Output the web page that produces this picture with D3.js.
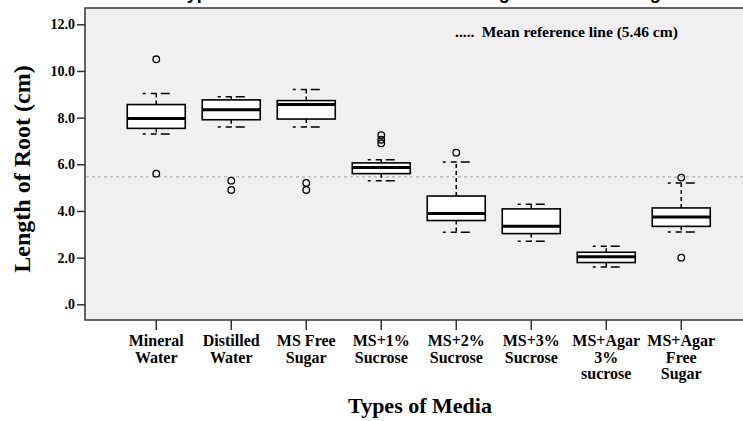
<!DOCTYPE html>
<html>
<head>
<meta charset="utf-8">
<script src="https://cdn.jsdelivr.net/npm/d3@7"></script>
<style>
  html, body { margin: 0; padding: 0; background: #fff; }
  svg { display: block; }
  .serif { font-family: "Liberation Serif", "Times New Roman", serif; font-weight: bold; }
</style>
</head>
<body>
<svg id="chart" width="743" height="421"></svg>
<script>
// ---------- data ----------
const categories = ["Mineral Water", "Distilled Water", "MS Free Sugar", "MS+1% Sucrose",
                    "MS+2% Sucrose", "MS+3% Sucrose", "MS+Agar 3% sucrose", "MS+Agar Free Sugar"];
const labelLines = [["Mineral", "Water"], ["Distilled", "Water"], ["MS Free", "Sugar"], ["MS+1%", "Sucrose"],
                    ["MS+2%", "Sucrose"], ["MS+3%", "Sucrose"], ["MS+Agar", "3%", "sucrose"], ["MS+Agar", "Free", "Sugar"]];
const whiskerLow  = [7.30, 7.60, 7.60, 5.30, 3.09, 2.70, 1.60, 3.10];
const q1          = [7.54, 7.91, 7.94, 5.60, 3.59, 3.03, 1.79, 3.34];
const median      = [7.96, 8.34, 8.56, 5.86, 3.89, 3.34, 2.04, 3.74];
const q3          = [8.56, 8.76, 8.73, 6.06, 4.64, 4.09, 2.23, 4.13];
const whiskerHigh = [9.03, 8.90, 9.21, 6.20, 6.10, 4.29, 2.49, 5.20];
const outliers    = [[10.5, 5.6], [5.3, 4.9], [5.2, 4.9], [7.25, 7.05, 6.9], [6.5], [], [], [5.43, 2.0]];
const yTicks = [0, 2, 4, 6, 8, 10, 12];
const yTickLabels = [".0", "2.0", "4.0", "6.0", "8.0", "10.0", "12.0"];
const meanValue = 5.46;
const legendText = "Mean reference line (5.46 cm)";
const xTitle = "Types of Media";
const yTitle = "Length of Root (cm)";
const chartTitle = "Types of Media on the Mean Root Length of the Seedlings";

// ---------- layout ----------
const svg = d3.select("#chart");
const plotL = 85, plotT = 8, plotB = 320, plotR = 770;

const x = d3.scaleBand().domain(categories).range([plotL, 752.5]).paddingInner(0).paddingOuter(0.45);
const y = d3.scaleLinear().domain([0, 12]).range([304.3, 24.3]);

svg.append("rect").attr("width", 743).attr("height", 421).attr("fill", "#fff");

// clipped title (only descenders visible)
svg.append("text")
  .attr("x", 177).attr("y", -1.5)
  .attr("font-family", "'Liberation Sans', Arial, sans-serif")
  .attr("font-weight", "bold").attr("font-size", 18)
  .attr("fill", "#000")
  .text(chartTitle);

// plot frame
svg.append("rect")
  .attr("x", plotL).attr("y", plotT)
  .attr("width", plotR - plotL).attr("height", plotB - plotT)
  .attr("fill", "#f0f0f0").attr("stroke", "#333").attr("stroke-width", 1.5);

// y axis
const yAxis = svg.append("g").attr("class", "serif")
  .attr("transform", `translate(${plotL},0)`)
  .call(d3.axisLeft(y).tickValues(yTicks).tickSize(8).tickPadding(2)
    .tickFormat((d, i) => yTickLabels[i]));
yAxis.select(".domain").remove();
yAxis.selectAll(".tick line").attr("stroke", "#333").attr("stroke-width", 1.5);
yAxis.selectAll(".tick text").attr("font-size", 14).attr("fill", "#000")
  .attr("font-family", "'Liberation Serif', 'Times New Roman', serif").attr("font-weight", "bold");

// x axis
const xAxis = svg.append("g")
  .attr("transform", `translate(0,${plotB})`)
  .call(d3.axisBottom(x).tickSize(10).tickFormat(""));
xAxis.select(".domain").remove();
xAxis.selectAll(".tick line").attr("stroke", "#333").attr("stroke-width", 1.5);
xAxis.selectAll(".tick").each(function(d, i) {
  const t = d3.select(this).append("text")
    .attr("font-family", "'Liberation Serif', 'Times New Roman', serif")
    .attr("font-weight", "bold").attr("font-size", 16)
    .attr("fill", "#000").attr("text-anchor", "middle");
  labelLines[i].forEach((ln, k) => {
    t.append("tspan").attr("x", 0).attr("y", 26 + k * 16.7).text(ln);
  });
});

// mean reference line
svg.append("line")
  .attr("x1", plotL + 1).attr("x2", 743)
  .attr("y1", y(meanValue)).attr("y2", y(meanValue))
  .attr("stroke", "#a0a0a0").attr("stroke-width", 1).attr("stroke-dasharray", "3,3");

// boxes
const boxW = 58, capW = 27;
const g = svg.append("g");
categories.forEach((c, i) => {
  const cx = x(c) + x.bandwidth() / 2;
  const grp = g.append("g");
  // whisker stems
  grp.append("line").attr("x1", cx).attr("x2", cx)
    .attr("y1", y(q3[i])).attr("y2", y(whiskerHigh[i]))
    .attr("stroke", "#000").attr("stroke-width", 1.5).attr("stroke-dasharray", "4,3");
  grp.append("line").attr("x1", cx).attr("x2", cx)
    .attr("y1", y(q1[i])).attr("y2", y(whiskerLow[i]))
    .attr("stroke", "#000").attr("stroke-width", 1.5).attr("stroke-dasharray", "4,3");
  // caps
  [whiskerHigh[i], whiskerLow[i]].forEach(v => {
    grp.append("line").attr("x1", cx - capW / 2).attr("x2", cx + capW / 2)
      .attr("y1", y(v)).attr("y2", y(v))
      .attr("stroke", "#000").attr("stroke-width", 1.5).attr("stroke-dasharray", "3,5,6,4,9");
  });
  // box
  grp.append("rect")
    .attr("x", cx - boxW / 2).attr("y", y(q3[i]))
    .attr("width", boxW).attr("height", y(q1[i]) - y(q3[i]))
    .attr("fill", "#fff").attr("stroke", "#000").attr("stroke-width", 1.6);
  // median
  grp.append("line").attr("x1", cx - boxW / 2).attr("x2", cx + boxW / 2)
    .attr("y1", y(median[i])).attr("y2", y(median[i]))
    .attr("stroke", "#000").attr("stroke-width", 3);
  // outliers
  outliers[i].forEach(v => {
    grp.append("circle").attr("cx", cx).attr("cy", y(v)).attr("r", 3.3)
      .attr("fill", "none").attr("stroke", "#000").attr("stroke-width", 1.3);
  });
});

// legend
svg.append("text").attr("class", "serif")
  .attr("x", 455).attr("y", 36.5).attr("font-size", 15.5).attr("fill", "#000")
  .text(".....");
svg.append("text").attr("class", "serif")
  .attr("x", 481.7).attr("y", 36.5).attr("font-size", 15.5).attr("fill", "#000")
  .text(legendText);

// axis titles
svg.append("text").attr("class", "serif")
  .attr("x", 420).attr("y", 413).attr("text-anchor", "middle")
  .attr("font-size", 22).attr("fill", "#000").text(xTitle);
svg.append("text").attr("class", "serif")
  .attr("transform", "translate(30,169) rotate(-90)").attr("text-anchor", "middle")
  .attr("font-size", 24).attr("fill", "#000").text(yTitle);
</script>
</body>
</html>
